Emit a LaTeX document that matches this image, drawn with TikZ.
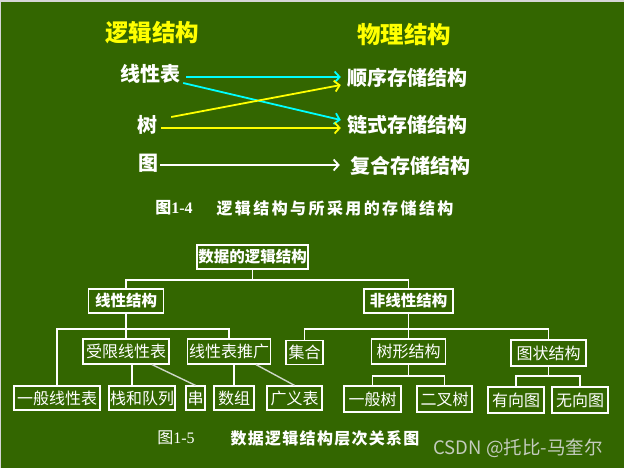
\documentclass[tikz,border=0pt]{standalone}
\usepackage{fontspec}
\setmainfont{Liberation Serif}
\newfontfamily\cjk{Noto Sans CJK SC}
\newfontfamily\cjkcap[LetterSpace=15]{Noto Sans CJK SC}
\newfontfamily\cjkcapb[LetterSpace=8]{Noto Sans CJK SC}
\usetikzlibrary{arrows.meta,calc}
\definecolor{bg}{RGB}{51,102,0}
\definecolor{edgegray}{RGB}{214,214,214}
\definecolor{diag}{RGB}{205,215,200}
\definecolor{wmark}{RGB}{196,204,190}
\definecolor{cy}{RGB}{0,255,255}
\definecolor{ye}{RGB}{255,255,0}
\tikzset{
  ytitle/.style={text=ye, inner sep=0pt, font=\cjk\bfseries\fontsize{23.5}{23.5}\selectfont},
  wlab/.style={text=white, inner sep=0pt, font=\cjk\bfseries\fontsize{20}{20}\selectfont},
  arr/.style={line width=1.8pt, -{Straight Barb[length=5pt,width=11pt,line width=1.8pt]}},
  tbox/.style={draw=white, line width=1.2pt, text=white, inner sep=0pt, minimum height=24pt,
    font=\cjk\fontsize{16}{16}\selectfont},
  tboxb/.style={tbox, font=\cjk\bfseries\fontsize{15.5}{15.5}\selectfont},
  tl/.style={draw=white, line width=1.2pt},
  dl/.style={draw=diag, line width=1.4pt},
}
\begin{document}
\begin{tikzpicture}[x=1pt,y=-1pt]
\useasboundingbox (0,0) rectangle (624,468);
\fill[edgegray] (0,0) rectangle (624,468);
\fill[bg] (1,2) rectangle (624,468);

% ---- top part ----
\node[ytitle] (lj) at (152,33) {逻辑结构};
\node[ytitle] (wl) at (404,35) {物理结构};
\node[wlab] (xxb) at (150,74) {线性表};
\node[wlab] (shu) at (147,125) {树};
\node[wlab] (tu) at (148,163) {图};
\node[wlab] (sx) at (407,78) {顺序存储结构};
\node[wlab] (ls) at (407,125) {链式存储结构};
\node[wlab] (fh) at (410,166) {复合存储结构};

\draw[arr, cy] ($(xxb.east)+(6,3)$) -- ($(sx.west)+(-6,-1)$);
\draw[arr, cy] ($(xxb.east)+(3,9)$) -- ($(ls.west)+(-6,-5)$);
\draw[arr, ye] ($(shu.east)+(14,-8)$) -- ($(sx.west)+(-6,7)$);
\draw[arr, ye] ($(shu.east)+(4,3)$) -- ($(ls.west)+(-6,3)$);
\draw[arr, white] ($(tu.east)+(2,2)$) -- ($(fh.west)+(-10,-1)$);

\node[text=white, inner sep=0pt, font=\fontsize{16}{16}\selectfont] (c14a) at (174,208) {{\cjk\bfseries 图}\textbf{1-4}};
\node[text=white, inner sep=0pt, font=\cjkcap\bfseries\fontsize{16}{16}\selectfont] (c14b) at (335,208) {逻辑结构与所采用的存储结构};

% ---- tree ----
\node[tboxb, minimum width=111pt] (root) at (252.5,257) {数据的逻辑结构};
\node[tboxb, minimum width=75pt] (lin) at (126,301) {线性结构};
\node[tboxb, minimum width=89pt] (nonlin) at (408.5,301) {非线性结构};

\node[tbox, minimum width=86pt, minimum height=25pt] (shouxian) at (126,351.5) {受限线性表};
\node[tbox, minimum width=83pt, minimum height=25pt] (tuiguang) at (229,351.5) {线性表推广};
\node[tbox, minimum width=37pt] (jihe) at (304.5,352.5) {集合};
\node[tbox, minimum width=74pt, minimum height=25pt] (shuxing) at (408.5,351.5) {树形结构};
\node[tbox, minimum width=75pt, minimum height=26pt] (tuzhuang) at (548.5,353) {图状结构};

\node[tbox, minimum width=86pt] (yiban) at (57,398) {一般线性表};
\node[tbox, minimum width=66pt] (zhan) at (142,398) {栈和队列};
\node[tbox, minimum width=19pt] (chuan) at (195.5,398) {串};
\node[tbox, minimum width=40pt] (shuzu) at (234,398) {数组};
\node[tbox, minimum width=55pt] (guangyi) at (294.5,398) {广义表};
\node[tbox, minimum width=57pt, minimum height=26pt] (yibanshu) at (372.5,399) {一般树};
\node[tbox, minimum width=55pt, minimum height=26pt] (erchashu) at (444.5,399) {二叉树};
\node[tbox, minimum width=56pt, minimum height=26pt] (youxiang) at (516,400) {有向图};
\node[tbox, minimum width=56pt, minimum height=26pt] (wuxiang) at (580,400) {无向图};

\coordinate (j0) at (252.5,280);
\draw[tl] (root.south) -- (j0);
\draw[tl] (lin.north) |- (j0) -| (nonlin.north);

\coordinate (j1) at (126,329);
\draw[tl] (lin.south) -- (shouxian.north);
\draw[tl] (yiban.north) |- (j1) -| (tuiguang.north);
\draw[tl] ([xshift=-10pt]zhan.north) -- ([xshift=-10pt]zhan.north |- shouxian.south);
\draw[dl] ([xshift=26pt]shouxian.south) -- (chuan.north);
\draw[tl] (shuzu.north) -- (shuzu.north |- tuiguang.south);
\draw[dl] ([xshift=27pt]tuiguang.south) -- (guangyi.north);

\coordinate (j2) at (408.5,329);
\draw[tl] (nonlin.south) -- (shuxing.north);
\draw[tl] (jihe.north) |- (j2) -| (tuzhuang.north);

\coordinate (j3) at (408.5,376);
\draw[tl] (shuxing.south) -- (j3);
\draw[tl] (yibanshu.north) |- (j3) -| (erchashu.north);

\coordinate (j4) at (548.5,376);
\draw[tl] (tuzhuang.south) -- (j4);
\draw[tl] (youxiang.north) |- (j4) -| (wuxiang.north);

\node[text=white, inner sep=0pt, font=\fontsize{16}{16}\selectfont] (c15a) at (176,438) {{\cjk 图}1-5};
\node[text=white, inner sep=0pt, font=\cjkcapb\bfseries\fontsize{16}{16}\selectfont] (c15b) at (325,438) {数据逻辑结构层次关系图};

\node[text=wmark, inner sep=0pt, font=\cjk\fontsize{18.5}{18.5}\selectfont] (wm) at (518,448) {CSDN @托比-马奎尔};
\end{tikzpicture}
\end{document}
